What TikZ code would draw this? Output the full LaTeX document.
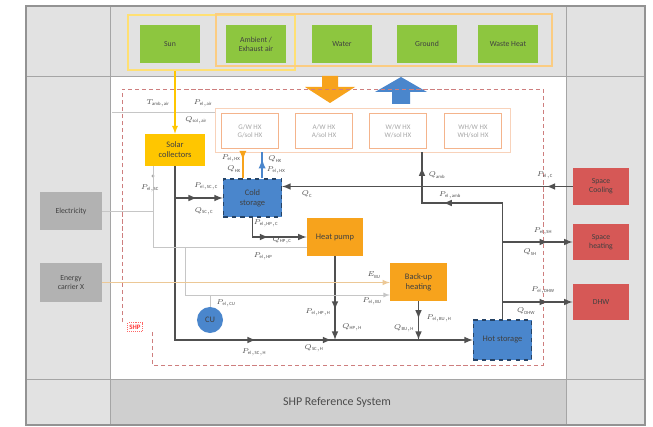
\documentclass[tikz,border=0pt]{standalone}
\usepackage{fontspec}
\setmainfont{Carlito}
\usetikzlibrary{decorations.markings}
\definecolor{srcgreen}{RGB}{141,198,63}
\definecolor{solyellow}{RGB}{255,198,0}
\definecolor{hporange}{RGB}{247,163,28}
\definecolor{stblue}{RGB}{74,134,204}
\definecolor{userred}{RGB}{214,88,86}
\definecolor{cellgray}{RGB}{226,226,226}
\definecolor{gridgray}{RGB}{165,165,165}
\definecolor{linegray}{RGB}{80,80,80}
\definecolor{hxline}{RGB}{244,180,140}
\definecolor{ecline}{RGB}{236,200,150}
\begin{document}
\begin{tikzpicture}[x=0.025cm,y=-0.025cm,
    srcbox/.style={fill=srcgreen,minimum width=1.48cm,minimum height=0.95cm,align=center,font=\fontsize{5.5}{6.5}\selectfont,text=black!75,inner sep=1pt},
    extbox/.style={fill=gray!60,minimum width=1.55cm,minimum height=0.96cm,align=center,font=\fontsize{5.5}{6.5}\selectfont,text=black!75,inner sep=1pt},
    userbox/.style={fill=userred,minimum width=1.4cm,minimum height=0.92cm,align=center,font=\fontsize{5.5}{6.5}\selectfont,text=black!75,inner sep=1pt},
    hxbox/.style={draw=hxline,line width=0.9pt,fill=white,minimum width=1.42cm,minimum height=0.87cm,align=center,font=\fontsize{5}{6}\selectfont,text=gray!70,inner sep=1pt},
    unit/.style={minimum width=1.45cm,minimum height=0.95cm,align=center,font=\fontsize{6}{7}\selectfont,text=black!75,inner sep=1pt},
    store/.style={unit,fill=stblue,draw=stblue!50!black,dashed,line width=0.8pt},
    flow/.style={draw=linegray,line width=1.1pt},
    elec/.style={draw=gray!45,line width=0.6pt},
    lbl/.style={font=\fontsize{4.8}{5}\selectfont,text=linegray,inner sep=0.5pt},
    tip/.style={postaction={decorate},decoration={markings,mark=at position #1 with {\arrow{latex}}}},
    tips/.style 2 args={postaction={decorate},decoration={markings,mark=at position #1 with {\arrow{latex}},mark=at position #2 with {\arrow{latex}}}},
  ]
  \useasboundingbox (0,0) rectangle (653,427);
  % frame and grid
  \fill[cellgray] (26,6) rectangle (645,425);
  \fill[white] (110,76) rectangle (566,379);
  \fill[gray!38] (110,379) rectangle (566,425);
  \draw[gridgray,line width=0.6pt] (110,6) -- (110,425) (566,6) -- (566,425) (26,76) -- (645,76) (26,379) -- (645,379);
  \draw[gray!85,line width=0.9pt] (26,6) rectangle (645,425);
  \node[font=\fontsize{8.5}{10}\selectfont,text=black!70] (refsys) at (337,402) {SHP Reference System};

  % sources
  \node[draw=solyellow!55,line width=1pt,minimum width=4.175cm,minimum height=1.375cm] (sungroup) at (211.5,42.5) {};
  \node[draw=hporange!55,line width=1pt,minimum width=8.4cm,minimum height=1.3cm] (ambgroup) at (384,40) {};
  \node[srcbox] (sun) at (170,44) {Sun};
  \node[srcbox] (air) at (256,44) {Ambient /\\Exhaust air};
  \node[srcbox] (water) at (342,44) {Water};
  \node[srcbox] (ground) at (427,44) {Ground};
  \node[srcbox] (waste) at (508,44) {Waste Heat};

  % big arrows
  \fill[hporange] (322,76) -- (338,76) -- (338,87) -- (355,87) -- (330,103) -- (305,87) -- (322,87) -- cycle;
  \fill[stblue] (392,104) -- (410,104) -- (410,92) -- (427,92) -- (401,77) -- (375,92) -- (392,92) -- cycle;

  % SHP boundary
  \draw[red!45!gray!70,densely dashed,line width=0.6pt] (122,322) -- (122,89) -- (543,89) -- (543,365) -- (152,365) -- (152,332);
  \node[draw=red!60,densely dotted,text=red!80,font=\fontsize{4.8}{5}\selectfont\bfseries,inner sep=1.5pt] (shp) at (135,327) {SHP};

  % heat exchangers
  \node[draw=hxline!60,line width=0.6pt,minimum width=7.375cm,minimum height=1.1cm] (hxgroup) at (362.5,130) {};
  \node[hxbox] (hxg) at (250,131) {G/W HX\\G/sol HX};
  \node[hxbox] (hxa) at (324,131) {A/W HX\\A/sol HX};
  \node[hxbox] (hxw) at (398,131) {W/W HX\\W/sol HX};
  \node[hxbox] (hxwh) at (473,131) {WH/W HX\\WH/sol HX};

  % components
  \node[unit,fill=solyellow,minimum width=1.5cm,minimum height=0.8cm] (sc) at (175,150) {Solar\\collectors};
  \node[store] (cold) at (252.5,198) {Cold\\storage};
  \node[unit,fill=hporange,minimum width=1.4cm] (hp) at (335,237) {Heat pump};
  \node[unit,fill=hporange,minimum width=1.42cm] (bu) at (418.5,282) {Back-up\\heating};
  \node[store,minimum height=1cm] (hot) at (502.5,340) {Hot storage};
  \node[circle,fill=stblue,minimum size=0.65cm,inner sep=0pt,font=\fontsize{6}{7}\selectfont,text=black!75] (cu) at (210,320) {CU};
  \node[extbox] (elgrid) at (71,211) {Electricity};
  \node[extbox] (ecx) at (71,282.5) {Energy\\carrier X};
  \node[userbox] (cool) at (601,186.5) {Space\\Cooling};
  \node[userbox] (heat) at (601,242) {Space\\heating};
  \node[userbox] (dhw) at (601,302) {DHW};

  % source connections
  \coordinate (airin) at (112,112);
  \draw[elec] (airin) -- (airin -| hxgroup.west);
  \draw[solyellow,line width=0.9pt,-latex] (sungroup.south -| sc.north) -- (sc.north);
  \coordinate (coldin) at ([xshift=-0.24cm]cold.north);
  \coordinate (coldout) at ([xshift=0.24cm]cold.north);
  \draw[hporange,line width=1.3pt,tip=0.3] (coldin |- hxgroup.south) -- (coldin);
  \draw[stblue,line width=1.3pt,tip=0.75] (coldout) -- (coldout |- hxgroup.south);

  % heat flows
  \draw[flow,tips={0.54}{0.7},-latex] (sc.south) |- (hot.west);
  \draw[flow,tip=0.46,-latex] (cold.west -| sc.south) -- (cold.west);
  \draw[flow,tip=0.09,-latex] (cool.west) -- (cool.west -| cold.east);
  \coordinate (ambturn) at (422,203);
  \draw[flow,tips={0.71}{0.94}] (hot.north) |- (ambturn) -- (ambturn |- hxgroup.south);
  \draw[flow,tip=0.65,-latex] (hot.north |- heat.west) -- (heat.west);
  \draw[flow,tip=0.65,-latex] (hot.north |- dhw.west) -- (dhw.west);
  \draw[flow,tip=0.48,-latex] (cold.south) |- (hp.west);
  \draw[flow,tip=0.64,-latex] (hp.south) -- (hp.south |- hot.west);
  \draw[flow,tip=0.45,-latex] (bu.south) -- (bu.south |- hot.west);

  % electricity and fuel
  \coordinate (elsc) at (153,166);
  \coordinate (elhp) at (153,247);
  \coordinate (elbu) at (185,247);
  \coordinate (elcu) at (210,295);
  \fill[gray!70] (elsc) ++(0,10) circle (1.6);
  \draw[elec] (elsc) -- (elhp) -- (elhp -| hp.west);
  \draw[elec] (elgrid.east) -- (elgrid.east -| elsc);
  \draw[elec,-latex] (elbu) |- (bu.west |- elcu);
  \draw[elec] (cu.north) -- (elcu);
  \draw[ecline,line width=0.8pt,-latex] (ecx.east) -- (ecx.east -| bu.west);

  % labels
  \node[lbl] (lt) at (158,103) {$T_{\mathrm{amb,air}}$};
  \node[lbl] (lpa) at (203,103) {$P_{\mathrm{el,air}}$};
  \node[lbl] (lqa) at (196,120) {$Q_{\mathrm{sol,air}}$};
  \node[lbl] (lpsc) at (150,188) {$P_{\mathrm{el,SC}}$};
  \node[lbl] (lpscc) at (206,186) {$P_{\mathrm{el,SC,C}}$};
  \node[lbl] (lqscc) at (204,211) {$Q_{\mathrm{SC,C}}$};
  \node[lbl] (lphx1) at (231,158) {$P_{\mathrm{el,HX}}$};
  \node[lbl] (lqhx1) at (234,169) {$Q_{\mathrm{HX}}$};
  \node[lbl] (lqhx2) at (275,159) {$Q_{\mathrm{HX}}$};
  \node[lbl] (lphx2) at (276,170) {$P_{\mathrm{el,HX}}$};
  \node[lbl] (lqc) at (307,194) {$Q_{\mathrm{C}}$};
  \node[lbl] (lqamb) at (437,175) {$Q_{\mathrm{amb}}$};
  \node[lbl] (lpc) at (545,175) {$P_{\mathrm{el,C}}$};
  \node[lbl] (lpamb) at (450,195) {$P_{\mathrm{el,amb}}$};
  \node[lbl] (lphpc) at (266,223) {$P_{\mathrm{el,HP,C}}$};
  \node[lbl] (lqhpc) at (282,240) {$Q_{\mathrm{HP,C}}$};
  \node[lbl] (lphp) at (263,256) {$P_{\mathrm{el,HP}}$};
  \node[lbl] (lebu) at (374,275) {$E_{\mathrm{BU}}$};
  \node[lbl] (lpbu) at (372,301) {$P_{\mathrm{el,BU}}$};
  \node[lbl] (lphph) at (318,312) {$P_{\mathrm{el,HP,H}}$};
  \node[lbl] (lqhph) at (352,327) {$Q_{\mathrm{HP,H}}$};
  \node[lbl] (lqbuh) at (404,328) {$Q_{\mathrm{BU,H}}$};
  \node[lbl] (lpbuh) at (439,318) {$P_{\mathrm{el,BU,H}}$};
  \node[lbl] (lpsh) at (543,231) {$P_{\mathrm{el,SH}}$};
  \node[lbl] (lqsh) at (530,252) {$Q_{\mathrm{SH}}$};
  \node[lbl] (lpdhw) at (543,290) {$P_{\mathrm{el,DHW}}$};
  \node[lbl] (lqdhw) at (526,311) {$Q_{\mathrm{DHW}}$};
  \node[lbl] (lpcu) at (226,303) {$P_{\mathrm{el,CU}}$};
  \node[lbl] (lpsch) at (254,352) {$P_{\mathrm{el,SC,H}}$};
  \node[lbl] (lqsch) at (314,348) {$Q_{\mathrm{SC,H}}$};
\end{tikzpicture}
\end{document}
